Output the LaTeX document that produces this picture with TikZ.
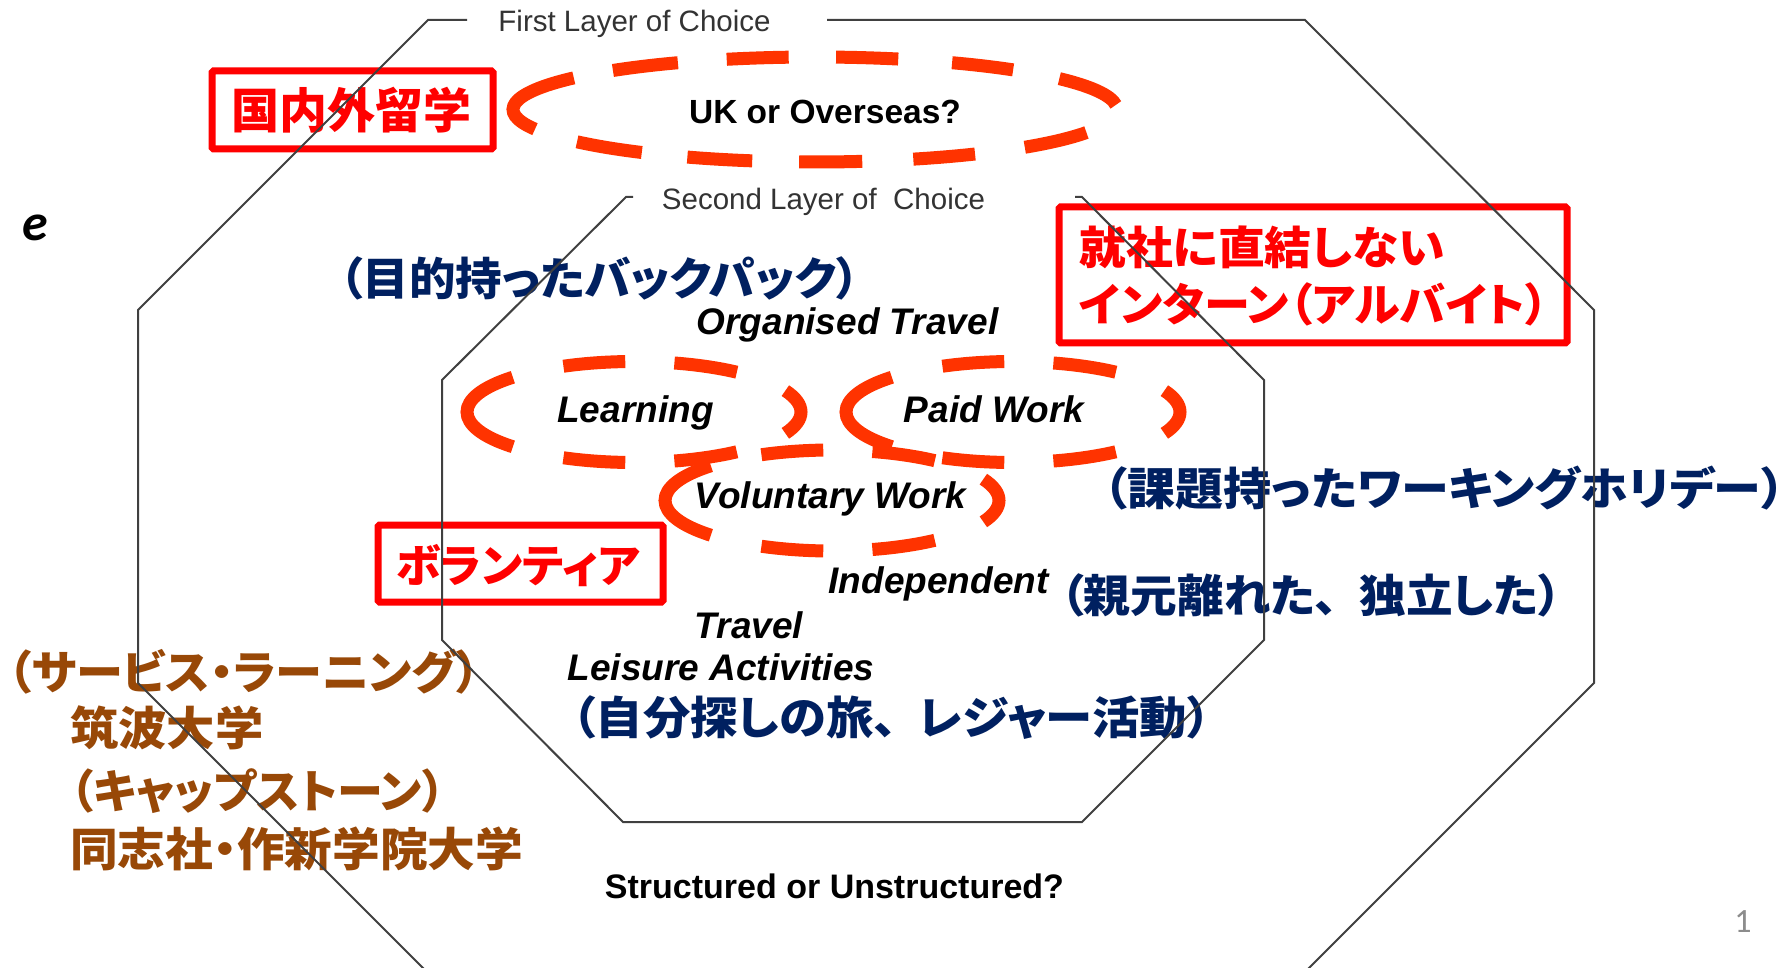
\documentclass[tikz,border=0pt]{standalone}
\usepackage{fontspec}
\usepackage{graphicx}
\setmainfont{Liberation Sans}
\newfontfamily\jpfont{Noto Sans CJK JP}[RawFeature=+palt]
\newfontfamily\calfont{Carlito}
\definecolor{boxred}{HTML}{FF0000}
\definecolor{dashred}{HTML}{FF3300}
\definecolor{navy}{HTML}{002060}
\definecolor{brownish}{HTML}{984807}
\definecolor{octgray}{HTML}{404040}
\definecolor{labgray}{HTML}{333333}
\definecolor{pagegray}{HTML}{8C8C8C}
\newcommand{\hs}[2]{\scalebox{#1}[1]{#2}}
\tikzset{
  oct/.style={draw=octgray, line width=2pt, line join=miter},
  dsh/.style={draw=dashred, line width=13pt},
  redbox/.style={draw=boxred, line width=7pt, rounded corners=1.5pt},
  jpt/.style={inner sep=0pt, font=\jpfont\bfseries\fontsize{#1}{#1}\selectfont},
  enbi/.style={inner sep=0pt, anchor=base, font=\bfseries\itshape\fontsize{37}{37}\selectfont},
  enb/.style={inner sep=0pt, anchor=base, font=\bfseries\fontsize{#1}{#1}\selectfont},
  enl/.style={inner sep=0pt, anchor=base, text=labgray, font=\fontsize{#1}{#1}\selectfont},
}
\begin{document}
\begin{tikzpicture}[x=1pt,y=1pt]
\useasboundingbox (0,0) rectangle (1792,-968);
\clip (0,0) rectangle (1792,-968);
\fill[white] (0,0) rectangle (1792,-968);

% red boxes
\draw[redbox] (212,-71) rectangle (493,-149);
\draw[redbox] (1059,-207) rectangle (1567,-343);
\draw[redbox] (378,-525) rectangle (663,-602);

% Japanese texts
\node[jpt=48, text=boxred] (kokunai) at (351.5,-110.5) {国内外留学};
\node[jpt=45, text=boxred, anchor=west] (shusha) at (1079,-247) {\hs{1.04}{就社に直結しない}};
\node[jpt=45, text=boxred, anchor=west] (intern) at (1079,-304) {\hs{1.025}{インターン（アルバイト）}};
\node[jpt=45, text=boxred] (vol) at (518,-566) {ボランティア};
\node[jpt=45, text=navy] (backpack) at (599.5,-278.5) {\hs{1.034}{（目的持ったバックパック）}};
\node[jpt=45, text=navy] (holiday) at (1444.5,-488.5) {\hs{1.067}{（課題持ったワーキングホリデー）}};
\node[jpt=45, text=navy] (oyamoto) at (1311,-595.5) {\hs{1.037}{（親元離れた、\kern0.45em 独立した）}};
\node[jpt=45, text=navy] (jibun) at (891.5,-717.5) {\hs{1.052}{（自分探しの旅、\kern0.45em レジャー活動）}};
\node[jpt=46, text=brownish, anchor=west] (service) at (8,-672) {\hs{1.025}{（サービス・ラーニング）}};
\node[jpt=46, text=brownish, anchor=west] (tsukuba) at (70,-727.5) {\hs{1.05}{筑波大学}};
\node[jpt=46, text=brownish, anchor=west] (capstone) at (70,-791) {（キャップストーン）};
\node[jpt=46, text=brownish, anchor=west] (doshisha) at (70,-848.5) {\hs{1.037}{同志社・作新学院大学}};

% dashed ellipses (parametric angles)
\coordinate (ukc) at (815,-109.5);
\foreach \a/\b in {5/36, 49/63, 74/86, 95/107, 117/132, 143/202, 218/235, 245/258, 267/279, 289/302, 314/334}
  \draw[dsh] (ukc) ++(\a:302 and 52.5) arc[start angle=\a, end angle=\b, x radius=302, y radius=52.5];
\coordinate (learnc) at (634,-412);
\coordinate (paidc) at (1013,-412);
\coordinate (volc) at (832,-500.5);
\foreach \c in {learnc, paidc, volc}
  \foreach \a/\b in {-25/25, 52/76, 93/115, 136.5/223.5, 245/267, 284/308}
    \draw[dsh] (\c) ++(\a:167 and 50.5) arc[start angle=\a, end angle=\b, x radius=167, y radius=50.5];

% octagons
\draw[oct] (467,-20) -- (428,-20) -- (138,-310) -- (138,-683) -- (428,-973);
\draw[oct] (827,-20) -- (1305,-20) -- (1594,-310) -- (1594,-683) -- (1305,-972);
\draw[oct] (633,-197) -- (626,-197) -- (442,-380) -- (442,-640) -- (623,-822) -- (1082,-822)
  -- (1264,-640) -- (1264,-380) -- (1082,-197) -- (1075,-197);

% English labels
\node[enl=29.5] (first) at (634.5,-31.5) {First Layer of Choice};
\node[enl=29.5] (second) at (823.5,-209.5) {Second Layer of\ \ Choice};
\node[enb=33.5] (uk) at (825,-123.5) {UK or Overseas?};
\node[enbi] (org) at (847.5,-335) {Organised Travel};
\node[enbi] (learn) at (635.5,-422) {Learning};
\node[enbi] (paid) at (994,-422) {Paid Work};
\node[enbi] (volw) at (830.5,-508) {Voluntary Work};
\node[enbi] (indep) at (938.5,-593) {Independent};
\node[enbi] (travel) at (749,-638) {Travel};
\node[enbi] (leisure) at (721,-680) {Leisure Activities};
\node[enb=34] (struct) at (834.5,-898) {Structured or Unstructured?};
\node[inner sep=0pt, font=\calfont\bfseries\itshape\fontsize{52}{52}\selectfont] (e) at (35.5,-227.5) {e};
\node[inner sep=0pt, text=pagegray, font=\calfont\fontsize{34}{34}\selectfont] (page) at (1743,-922) {1};
\end{tikzpicture}
\end{document}
